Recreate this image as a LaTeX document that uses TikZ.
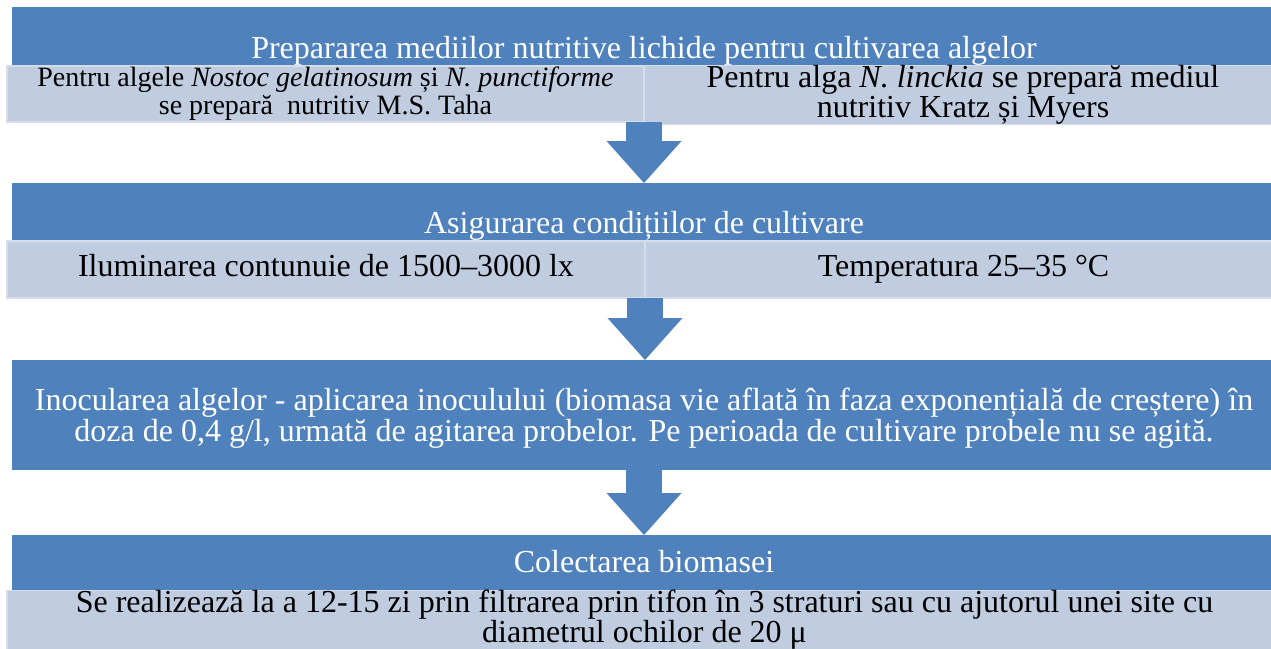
\documentclass[tikz,border=0pt]{standalone}
\usepackage{fontspec}
\setmainfont{Liberation Serif}
\usetikzlibrary{arrows.meta, positioning}
\definecolor{stageblue}{RGB}{79,129,189}
\definecolor{detailfill}{RGB}{192,204,224}
\definecolor{detailedge}{RGB}{214,221,234}

\begin{document}
\begin{tikzpicture}[x=1pt, y=-1pt, inner sep=0pt, outer sep=0pt]
		\tikzset{
			stage/.style={fill=stageblue, minimum width=1264pt, text=white, align=center, font=\fontsize{32}{31}\selectfont},
			detail/.style={fill=detailfill, draw=detailedge, line width=1.2pt, align=center, font=\fontsize{32}{30}\selectfont},
			oneline/.style={text height=22pt, text depth=8pt},
			flow/.style={draw=stageblue, line width=36pt, -{Triangle[length=42pt, width=75pt, line width=0pt]}}
		}
		\clip (0,0) rectangle (1271,648);
		\fill[white] (0,0) rectangle (1271,648);
		% bands
		\node[stage, text height=22pt, text depth=7pt, minimum height=88pt] (st1) at (644,51) {Prepararea mediilor nutritive lichide pentru cultivarea algelor};
		\node[stage, oneline, minimum height=86pt] (st2) at (644,226) {Asigurarea condițiilor de cultivare};
		\node[stage, minimum height=110pt, text depth=0pt] (st3) at (644,415) {Inocularea algelor - aplicarea inoculului (biomasa vie aflată în faza exponențială de creștere) în\\doza de 0,4 g/l, urmată de agitarea probelor. Pe perioada de cultivare probele nu se agită.};
		\node[stage, oneline, minimum height=60pt] (st4) at (644,565) {Colectarea biomasei};
		
		% details
		\node[detail, minimum width=637pt, minimum height=56pt, font=\fontsize{28}{28}\selectfont] (dt1a) at (325.5,94) {Pentru algele \textit{Nostoc gelatinosum} și \textit{N. punctiforme}\\se prepară~ nutritiv M.S. Taha};
		\node[detail, minimum width=638pt, minimum height=56pt] (dt1b) at (963,95) {Pentru alga \textit{N. linckia} se prepară mediul\\nutritiv Kratz și Myers};
		\node[detail, oneline, minimum width=638pt, minimum height=57pt] (dt2a) at (326,269.5) {Iluminarea contunuie de 1500–3000 lx};
		\node[detail, oneline, minimum width=637pt, minimum height=57pt] (dt2b) at (963.5,269.5) {Temperatura 25–35 °C};
		\node[detail, minimum width=1275pt, minimum height=58pt] (dt4) at (644.5,620) {Se realizează la a 12-15 zi prin filtrarea prin tifon în 3 straturi sau cu ajutorul unei site cu\\diametrul ochilor de 20 μ};
		
		% arrows
		\draw[flow] (dt1a.south east) -- (st2.north -| dt1a.south east);
		\draw[flow] (dt2a.south east) -- (st3.north -| dt2a.south east);
		\draw[flow] (st3.south) -- (st4.north);
	\end{tikzpicture}
\end{document}
